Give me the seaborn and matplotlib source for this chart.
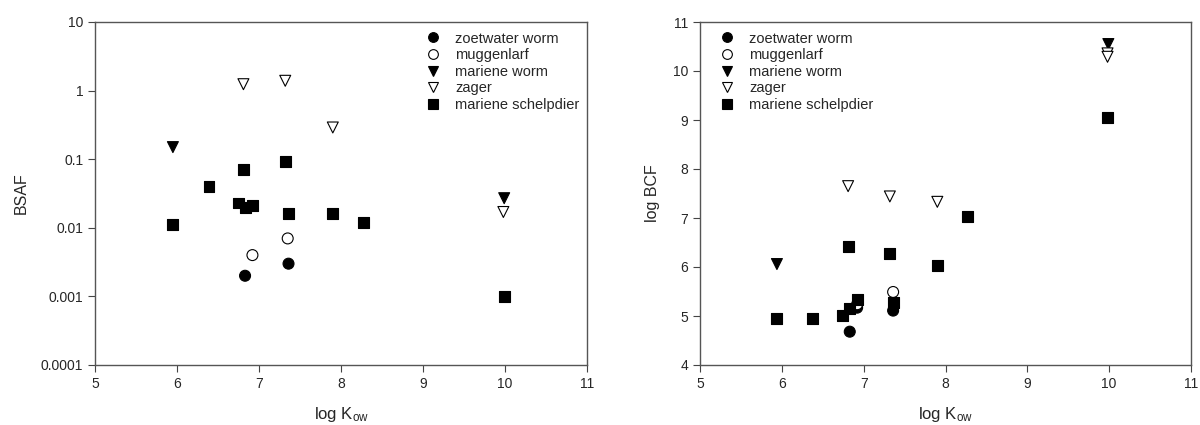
import pandas as pd
import matplotlib
matplotlib.use("Agg")
import matplotlib.pyplot as plt
from matplotlib.lines import Line2D
import seaborn as sns

species = ["zoetwater worm", "muggenlarf", "mariene worm", "zager", "mariene schelpdier"]
markers = {"zoetwater worm": "o", "muggenlarf": "o", "mariene worm": "v",
           "zager": "v", "mariene schelpdier": "s"}
faces = {"zoetwater worm": "black", "muggenlarf": "white", "mariene worm": "black",
         "zager": "white", "mariene schelpdier": "black"}

# BSAF panel (log Kow, BSAF)
bsaf_kow = {
    "zoetwater worm": [6.83, 7.36],
    "muggenlarf": [6.92, 7.35],
    "mariene worm": [5.95, 9.99],
    "zager": [6.81, 7.32, 7.90, 9.98],
    "mariene schelpdier": [5.95, 6.39, 6.75, 6.81, 6.83, 6.92, 7.32, 7.36, 7.90, 8.27, 9.99],
}
bsaf_val = {
    "zoetwater worm": [0.002, 0.003],
    "muggenlarf": [0.004, 0.007],
    "mariene worm": [0.15, 0.027],
    "zager": [1.24, 1.39, 0.29, 0.017],
    "mariene schelpdier": [0.011, 0.040, 0.023, 0.071, 0.020, 0.021, 0.094, 0.016, 0.016, 0.012, 0.001],
}

# log BCF panel
bcf_kow = {
    "zoetwater worm": [6.83, 6.92, 7.36],
    "muggenlarf": [6.92, 7.36],
    "mariene worm": [5.94, 9.99],
    "zager": [6.81, 7.32, 7.90, 9.98, 9.98],
    "mariene schelpdier": [5.94, 6.38, 6.74, 6.83, 6.92, 6.81, 7.32, 7.36, 7.90, 8.27, 9.98],
}
bcf_val = {
    "zoetwater worm": [4.68, 5.17, 5.11],
    "muggenlarf": [5.24, 5.49],
    "mariene worm": [6.06, 10.55],
    "zager": [7.65, 7.44, 7.33, 10.36, 10.29],
    "mariene schelpdier": [4.94, 4.94, 5.01, 5.15, 5.34, 6.42, 6.28, 5.27, 6.04, 7.04, 9.06],
}


def to_frame(xs, ys):
    rows = []
    for sp in species:
        for x, y in zip(xs[sp], ys[sp]):
            rows.append({"kow": x, "val": y, "species": sp})
    return pd.DataFrame(rows)


sns.set_style("ticks")
plt.rcParams['font.family'] = ['Liberation Sans', 'DejaVu Sans']
plt.rcParams['mathtext.fontset'] = 'custom'
plt.rcParams['mathtext.rm'] = 'Liberation Sans'
plt.rcParams['mathtext.it'] = 'Liberation Sans'

fig = plt.figure(figsize=(12, 4.25), dpi=100)
ax1 = fig.add_axes([95 / 1200, 60 / 425, 492 / 1200, 343 / 425])
ax2 = fig.add_axes([700 / 1200, 60 / 425, 491 / 1200, 343 / 425])

FS = 10.5


def panel(ax, df, ylabel, legend_x):
    sns.scatterplot(data=df, x="kow", y="val", hue="species", style="species",
                    markers=markers, palette=faces, edgecolor="black",
                    linewidth=0.8, s=62, legend=False, ax=ax, zorder=3)
    ax.set_xlim(5, 11)
    ax.set_xticks(range(5, 12))
    ax.set_xlabel(r"log K$_{\mathrm{ow}}$", fontsize=FS + 1.5, labelpad=10)
    ax.set_ylabel(ylabel, fontsize=FS + 1, labelpad=9)
    ax.tick_params(direction="out", length=5, width=0.8, labelsize=FS - 0.5,
                   color="#444444", top=False, right=False)
    for sp in ax.spines.values():
        sp.set_color("#555555")
        sp.set_linewidth(1.0)
    handles = [Line2D([], [], linestyle="none", marker=markers[s], markersize=7,
                      markerfacecolor=faces[s], markeredgecolor="black",
                      markeredgewidth=0.8) for s in species]
    ax.legend(handles, species, loc="upper left", bbox_to_anchor=(legend_x, 0.972),
              frameon=False, fontsize=FS, handlelength=1.0, handletextpad=1.0,
              labelspacing=0.18, borderpad=0, borderaxespad=0)


panel(ax1, to_frame(bsaf_kow, bsaf_val), "BSAF", 0.673)
ax1.set_yscale("log")
ax1.set_ylim(0.0001, 10)
ax1.set_yticks([0.0001, 0.001, 0.01, 0.1, 1, 10])
ax1.set_yticklabels(["0.0001", "0.001", "0.01", "0.1", "1", "10"])
ax1.minorticks_off()

panel(ax2, to_frame(bcf_kow, bcf_val), "log BCF", 0.041)
ax2.set_ylim(4, 11)
ax2.set_yticks(range(4, 12))

fig.savefig("out.png", dpi=100)
